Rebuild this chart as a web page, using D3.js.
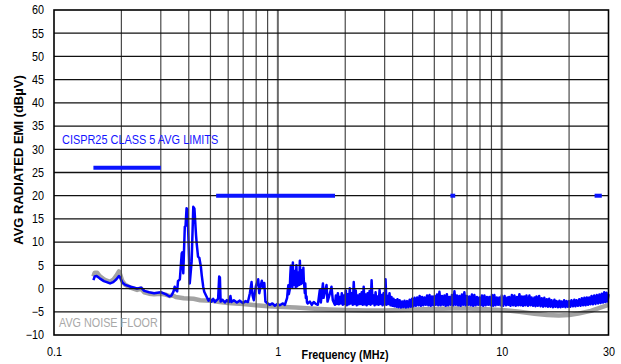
<!DOCTYPE html>
<html>
<head>
<meta charset="utf-8">
<script src="https://cdn.jsdelivr.net/npm/d3@7"></script>
<style>
  html, body { margin: 0; padding: 0; background: #fff; }
  svg { display: block; }
  text { font-family: "Liberation Sans", Arial, sans-serif; }
</style>
</head>
<body>
<svg id="chart" width="621" height="364"></svg>
<script>
// ---------- DATA ----------
const yTicks = [-10, -5, 0, 5, 10, 15, 20, 25, 30, 35, 40, 45, 50, 55, 60];
const xTickLabels = [0.1, 1, 10, 30];
const xGridFreqs = [0.2,0.3,0.4,0.5,0.6,0.7,0.8,0.9,1,2,3,4,5,6,7,8,9,10,20];
const xDecades = [1, 10];

// CISPR25 class 5 average limits (MHz from, MHz to, dBµV)
const limitFrom  = [0.15, 0.53, 5.9, 26];
const limitTo    = [0.30, 1.80, 6.2, 28];
const limitLevel = [26,   20,   20,  20];

// Measured average radiated EMI [MHz, dBµV]
const measured = [
  [0.150,1.8],[0.152,2.6],[0.155,2.7],[0.160,2.2],[0.167,1.6],[0.172,1.4],[0.178,1.1],[0.184,1.4],
  [0.190,2.0],[0.195,2.7],[0.198,2.3],[0.202,1.3],[0.208,0.8],[0.220,0.4],[0.235,0.0],[0.245,0.2],
  [0.253,-0.5],[0.266,-0.8],[0.280,-1.0],[0.300,-0.8],[0.315,-1.2],[0.328,-1.7],[0.335,-1.5],
  [0.342,-0.6],[0.346,0.4],[0.350,-0.3],[0.355,-0.6],[0.358,1.6],[0.365,2.0],[0.372,7.6],[0.374,7.8],
  [0.378,3.3],[0.384,13.3],[0.387,13.5],[0.391,17.3],[0.395,17.0],[0.399,10.1],[0.404,1.1],[0.412,5.8],
  [0.419,17.6],[0.424,17.2],[0.431,11.5],[0.434,9.7],[0.440,6.9],[0.446,6.6],[0.453,4.7],[0.457,2.9],
  [0.464,0.4],[0.469,-0.7],[0.480,-1.7],[0.490,-2.6],[0.497,-2.2],[0.505,-2.8],[0.514,-2.2],[0.524,-2.9],
  [0.533,-2.5],[0.541,-2.2],[0.547,2.6],[0.551,2.4],[0.555,-2.8],[0.565,-2.4],[0.580,-3.0],[0.592,-2.5],
  [0.604,-2.9],[0.614,-1.6],[0.620,-2.9],[0.636,-2.5],[0.656,-3.0],[0.676,-2.6],[0.698,-3.1],[0.718,-2.7],
  [0.735,-2.9],[0.750,-1.0],[0.763,1.4],[0.771,-1.5],[0.781,-2.5],[0.798,0.5],[0.817,2.0],[0.826,-1.0],
  [0.840,0.8],[0.848,1.7],[0.860,0.2],[0.870,1.2],[0.880,-2.8],[0.900,-3.2],[0.921,-3.5],[0.945,-3.2],
  [0.970,-3.7],[0.995,-3.3],[1.02,-3.6],[1.05,-3.2],[1.075,-3.5],
  [1.10,-2.0],[1.107,-0.5],[1.114,0.7],[1.12,-1.2],[1.13,-0.2],[1.137,3.0],[1.143,4.9],[1.149,0.5],
  [1.155,2.5],[1.161,0.3],[1.167,5.6],[1.173,1.5],[1.18,0.8],[1.188,3.8],[1.197,3.5],[1.203,0.2],
  [1.21,5.0],[1.216,2.0],[1.222,0.5],[1.231,2.8],[1.24,3.5],[1.247,0.8],[1.254,6.0],[1.262,2.5],
  [1.27,1.0],[1.278,3.2],[1.286,4.0],[1.293,1.2],[1.30,4.5],[1.306,1.8],[1.313,0.5],[1.32,-1.0],
  [1.326,1.1],[1.334,-2.0],[1.343,-1.7],[1.35,-3.0],[1.36,-3.2],
  [1.39,-2.8],[1.418,-3.5],[1.447,-2.9],[1.477,-3.3],[1.509,-3.5],[1.54,-0.3],[1.556,-3.0],[1.59,1.1],
  [1.60,-2.0],[1.65,0.75],[1.667,-2.8],[1.71,-1.0],[1.736,0.4],[1.76,-2.5],
  [1.798,-3.5],[1.816,-1.5],[1.835,-3.3],[1.854,-1.0],[1.873,-3.4],[1.892,-1.8],[1.912,-3.2],[1.931,-1.0],
  [1.951,-3.5],[1.971,-1.5],[1.991,-3.3],[2.012,-0.4],[2.032,-3.6],[2.053,-1.2],[2.074,-3.4],[2.096,0.05],
  [2.117,-3.2],[2.139,-1.0],[2.161,-3.5],[2.183,1.4],[2.205,-3.3],[2.228,-0.4],[2.251,-3.6],[2.274,-1.5],
  [2.297,-3.4],[2.321,-1.2],[2.345,-3.3],[2.369,-0.8],[2.393,-3.5],[2.418,0.4],[2.442,-3.4],[2.467,-1.3],
  [2.493,-3.6],[2.518,-1.0],[2.544,-3.3],[2.570,-0.5],[2.597,-3.5],[2.623,1.8],[2.650,-3.2],[2.678,-1.5],
  [2.705,-3.6],[2.733,-0.8],[2.761,-3.4],[2.789,-1.7],[2.818,-3.5],[2.847,-0.3],[2.876,-3.3],[2.906,-1.4],
  [2.935,-3.6],[2.966,-1.0],[2.996,-3.4],[3.027,2.0],[3.058,-3.5],[3.089,-1.6],[3.121,-3.3],[3.153,-1.0],
  [3.185,-3.6],[3.218,-1.8],[3.251,-3.7],[3.285,-2.2],[3.318,-3.8],[3.352,-2.5],[3.387,-3.9],[3.422,-2.3],
  [3.457,-4.0],[3.50,-2.5],
  [3.545,-4.1],[3.59,-2.8],[3.635,-4.0],[3.68,-2.6],[3.73,-4.1],[3.78,-2.7],[3.83,-4.0],[3.88,-2.4],
  [3.93,-3.9],[3.98,-2.2],[4.03,-3.8],[4.08,-2.0],[4.135,-3.7],[4.19,-1.9],[4.245,-3.6],[4.30,-1.6],
  [4.355,-3.7],[4.41,-1.8],[4.465,-3.6],[4.52,-1.9],[4.58,-3.5],[4.64,-1.5],[4.70,-3.6],[4.76,-1.4],
  [4.82,-3.7],[4.88,-1.7],[4.945,-3.6],[5.01,-1.6],[5.075,-3.5],[5.14,-1.3],[5.205,-3.6],[5.27,-0.7],
  [5.34,-3.6],[5.41,-1.6],[5.48,-3.5],[5.55,-1.5],[5.62,-3.7],[5.69,-1.2],[5.765,-3.6],[5.84,-1.8],
  [5.915,-3.5],[5.99,-1.4],[6.07,-3.6],[6.15,-0.6],[6.23,-3.5],[6.31,-1.5],[6.39,-3.6],[6.47,-1.6],
  [6.555,-3.7],[6.64,-1.3],[6.725,-3.5],[6.81,-0.8],[6.90,-3.6],[6.99,-1.6],[7.08,-3.5],[7.17,-1.7],
  [7.265,-3.6],[7.36,-1.3],[7.455,-3.7],[7.55,-1.4],[7.65,-3.6],[7.75,-1.8],[7.85,-3.5],[7.95,-1.9],
  [8.055,-3.6],[8.16,-1.5],[8.265,-3.7],[8.37,-1.5],[8.48,-3.6],[8.59,-1.8],[8.70,-3.5],[8.81,-1.8],
  [8.925,-3.6],[9.04,-1.4],[9.155,-3.7],[9.27,-1.4],[9.39,-3.6],[9.51,-1.9],[9.635,-3.5],[9.76,-1.9],
  [9.88,-3.6],[10.0,-1.5],[10.15,-3.7],[10.3,-1.6],[10.45,-3.6],[10.6,-1.9],[10.7,-3.5],[10.8,-1.8],
  [10.95,-3.7],[11.1,-1.4],[11.25,-3.6],[11.4,-1.5],[11.55,-3.7],[11.7,-1.8],[11.85,-3.6],[12.0,-1.2],
  [12.15,-3.6],[12.3,-1.7],[12.45,-3.7],[12.6,-1.7],[12.75,-3.6],[12.9,-1.5],[13.1,-3.7],[13.3,-1.5],
  [13.45,-3.6],[13.6,-1.9],[13.8,-3.7],[14.0,-1.9],[14.15,-3.8],[14.3,-1.7],[14.5,-3.7],[14.7,-1.6],
  [14.9,-3.8],[15.1,-2.1],[15.3,-3.9],[15.5,-2.0],[15.7,-3.8],[15.9,-2.3],[16.1,-3.9],[16.3,-2.2],
  [16.5,-3.9],[16.7,-2.5],[16.95,-4.0],[17.2,-2.4],[17.4,-3.9],[17.6,-2.7],[17.85,-4.0],[18.1,-2.6],
  [18.3,-4.0],[18.5,-2.8],[18.75,-3.9],[19.0,-2.5],[19.25,-4.0],[19.5,-2.7],[19.75,-3.9],[20.0,-2.7],
  [20.25,-3.9],[20.5,-2.5],[20.8,-3.8],[21.1,-2.4],[21.35,-3.8],[21.6,-2.5],[21.9,-3.7],[22.2,-2.3],
  [22.5,-3.7],[22.8,-2.1],[23.1,-3.6],[23.4,-2.0],[23.7,-3.6],[24.0,-1.9],[24.3,-3.5],[24.6,-1.9],
  [24.9,-3.4],[25.2,-1.6],[25.55,-3.4],[25.9,-1.5],[26.25,-3.3],[26.6,-1.4],[26.95,-3.2],[27.3,-1.3],
  [27.65,-3.1],[28.0,-1.1],[28.35,-3.0],[28.7,-0.8],[29.05,-2.9],[29.4,-0.9],[29.7,-2.8],[30.0,-1.2]
];

// Average noise floor [MHz, dBµV]
const noiseFloor = [
  [0.150,2.6],[0.152,3.4],[0.156,3.4],[0.160,2.7],[0.167,2.0],[0.172,1.7],[0.178,1.5],[0.184,1.9],
  [0.190,2.8],[0.195,3.7],[0.198,2.9],[0.202,1.6],[0.208,0.8],[0.220,0.2],[0.235,-0.3],[0.245,0.0],
  [0.253,-0.8],[0.266,-1.1],[0.280,-1.2],[0.300,-1.1],[0.315,-1.3],[0.328,-1.6],[0.340,-1.5],
  [0.350,-1.8],[0.380,-2.1],[0.420,-2.2],[0.450,-2.5],[0.500,-2.6],[0.550,-2.9],[0.600,-3.1],
  [0.700,-3.3],[0.800,-3.6],[0.900,-3.8],[1.0,-3.9],[1.2,-4.1],[1.4,-4.3],[1.7,-4.5],[2.0,-4.6],
  [2.5,-4.7],[3.0,-4.7],[3.5,-4.6],[4.0,-4.5],[5.0,-4.4],[6.0,-4.3],[7.0,-4.3],[8.0,-4.4],
  [9.0,-4.5],[10,-4.6],[12,-5.0],[14,-5.4],[16,-5.7],[18,-5.8],[20,-5.7],[22,-5.4],[25,-4.8],
  [28,-4.0],[30,-3.5]
];

const yTitle = "AVG RADIATED EMI (dBµV)";
const xTitle = "Frequency (MHz)";
const limitLabel = "CISPR25 CLASS 5 AVG LIMITS";
const floorLabel = "AVG NOISE FLOOR";

// ---------- DRAW ----------
const svg = d3.select("#chart");
const pLeft = 54, pRight = 608.5, pTop = 10, pBottom = 335;
const x = d3.scaleLog().domain([0.1, 30]).range([pLeft, pRight]);
const y = d3.scaleLinear().domain([-10, 60]).range([pBottom, pTop]);
const line = d3.line().x(d => x(d[0])).y(d => y(d[1]));

// traces
svg.append("path").datum(noiseFloor)
  .attr("d", line).attr("fill", "none")
  .attr("stroke", "#a3a3a3").attr("stroke-width", 4.5).attr("stroke-linejoin", "round");
svg.append("path").datum(measured)
  .attr("d", line).attr("fill", "none")
  .attr("stroke", "#0000ff").attr("stroke-width", 2.5).attr("stroke-linejoin", "round");

// grid
const grid = svg.append("g");
grid.selectAll("line.v").data(xGridFreqs).enter().append("line")
  .attr("x1", d => x(d)).attr("x2", d => x(d))
  .attr("y1", pTop).attr("y2", pBottom)
  .attr("stroke", d => xDecades.includes(d) ? "#6a6a6a" : "#4a4a4a")
  .attr("stroke-width", d => xDecades.includes(d) ? 2 : 1.2);
grid.selectAll("line.h").data(yTicks.filter(t => t > -10 && t < 60)).enter().append("line")
  .attr("x1", pLeft).attr("x2", pRight)
  .attr("y1", d => y(d)).attr("y2", d => y(d))
  .attr("stroke", "#111").attr("stroke-width", 1.3);

// limits
svg.selectAll("line.lim").data(limitLevel).enter().append("line")
  .attr("x1", (d, i) => x(limitFrom[i])).attr("x2", (d, i) => x(limitTo[i]))
  .attr("y1", d => y(d)).attr("y2", d => y(d))
  .attr("stroke", "#0a14ff").attr("stroke-width", 4);

// frame
svg.append("rect").attr("x", pLeft).attr("y", pTop)
  .attr("width", pRight - pLeft).attr("height", pBottom - pTop)
  .attr("fill", "none").attr("stroke", "#000").attr("stroke-width", 1.6);

// axes
const yAxis = svg.append("g").attr("transform", `translate(${pLeft},0)`)
  .call(d3.axisLeft(y).tickValues(yTicks).tickSize(0).tickPadding(11).tickFormat(d3.format("d")));
const xAxis = svg.append("g").attr("transform", `translate(0,${pBottom})`)
  .call(d3.axisBottom(x).tickValues(xTickLabels).tickSize(0).tickPadding(12).tickFormat(d => String(d)));
[yAxis, xAxis].forEach(a => {
  a.select(".domain").remove();
  a.selectAll("text").attr("font-size", 12).attr("fill", "#000")
    .attr("font-family", "'Liberation Sans', Arial, sans-serif")
    .attr("transform", "scale(0.9,1)");
});

// titles
svg.append("text").attr("transform", "translate(22.5,160) rotate(-90)")
  .attr("text-anchor", "middle").attr("font-size", 13).attr("font-weight", "bold")
  .text(yTitle);
svg.append("text").attr("transform", "translate(345,359) scale(0.9,1)")
  .attr("text-anchor", "middle").attr("font-size", 12).attr("font-weight", "bold")
  .text(xTitle);
svg.append("text").attr("transform", "translate(62,144) scale(0.91,1)")
  .attr("font-size", 12).attr("fill", "#1414ff").text(limitLabel);
svg.append("text").attr("transform", "translate(59,327) scale(0.9,1)")
  .attr("font-size", 12).attr("fill", "#a8a8a8").text(floorLabel);
</script>
</body>
</html>
